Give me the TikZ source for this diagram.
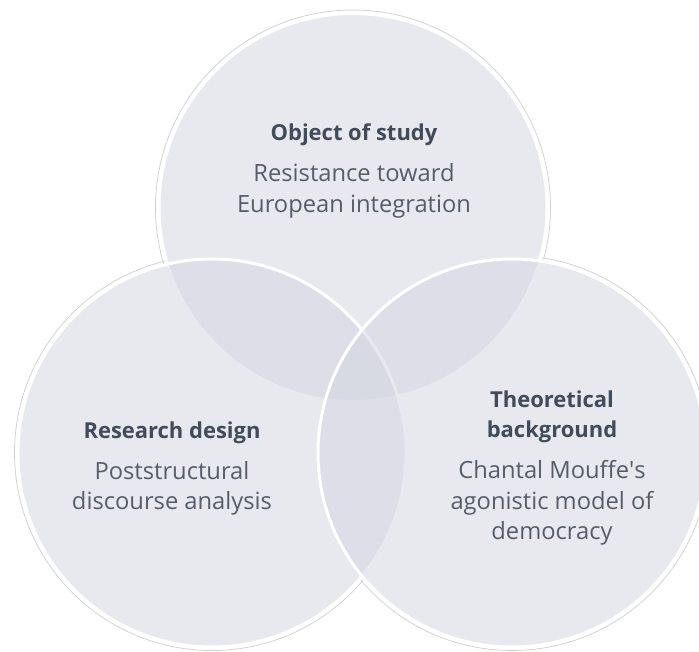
\documentclass[tikz,border=0pt]{standalone}
\usepackage{fontspec}
\setmainfont{Open Sans}

\definecolor{vennfill}{RGB}{211,213,225}
\definecolor{vennline}{RGB}{205,205,210}
\definecolor{venntitle}{RGB}{66,75,90}
\definecolor{venntext}{RGB}{86,93,106}

\begin{document}
\begin{tikzpicture}[
  set/.style={fill=vennfill, fill opacity=0.5, draw=white, line width=1.7pt},
  caption/.style={align=center, text=venntext, font=\fontsize{13.5}{17.4}\selectfont},
]
\useasboundingbox (0,0) rectangle (13.98,13.02);
% thin grey rim round each set, then a white base so the rims stay outside
\foreach \c in {(7.06,8.87),(4.24,3.96),(10.24,3.96)}
  \draw[vennline, line width=0.4pt] \c circle (3.95);
\fill[white] (7.06,8.87) circle (3.9) (4.24,3.96) circle (3.9) (10.24,3.96) circle (3.9);
% the three sets
\draw[set] (7.06,8.87) circle (3.88);
\draw[set] (4.24,3.96) circle (3.88);
\draw[set] (10.24,3.96) circle (3.88);
% labels
\node[caption] (study) at (7.08, 9.6)
  {\textcolor{venntitle}{\fontsize{12.5}{17}\selectfont\bfseries Object of study}\\[6pt]
   Resistance toward\\European integration};
\node[caption] (design) at (3.44, 3.65)
  {\textcolor{venntitle}{\fontsize{12.5}{17}\selectfont\bfseries Research design}\\[6pt]
   Poststructural\\discourse analysis};
\node[caption] (theory) at (11.04, 3.66)
  {\textcolor{venntitle}{\fontsize{12.5}{17}\selectfont\bfseries Theoretical}\\
   \textcolor{venntitle}{\fontsize{12.5}{17}\selectfont\bfseries background}\\[6pt]
   Chantal Mouffe\textquotesingle s\\agonistic model of\\democracy};
\end{tikzpicture}
\end{document}
